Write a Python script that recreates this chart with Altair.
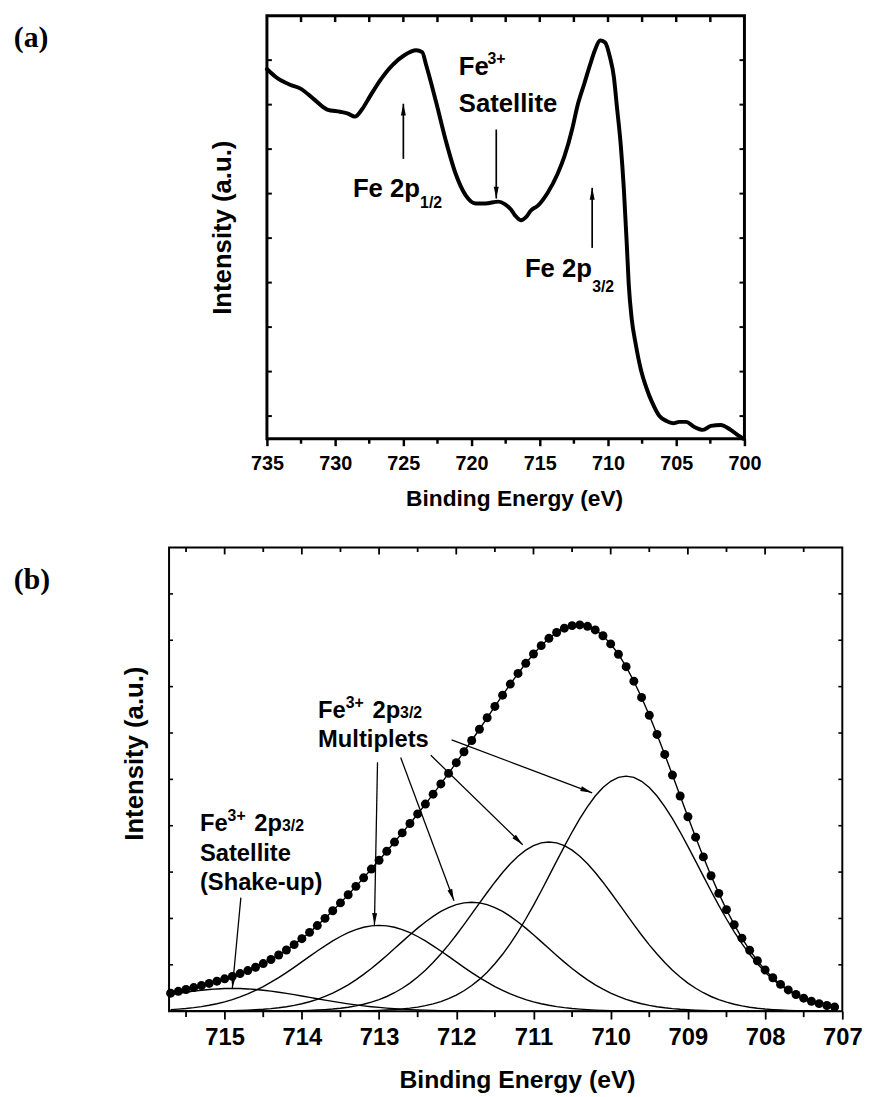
import math
import altair as alt
import pandas as pd

SANS = "Liberation Sans, Arial, Helvetica, sans-serif"
NARROW = "Liberation Sans Narrow, Arial Narrow, Liberation Sans, sans-serif"
SERIF = "Liberation Serif, Times New Roman, serif"

# ---------------- panel (a): survey of Fe 2p ----------------
a_be = [735.00, 734.35, 733.26, 732.54, 731.59, 730.58, 729.64, 729.06, 728.55, 728.04,
        727.46, 726.74, 725.80, 724.93, 724.06, 723.62, 723.33, 722.61, 721.88, 721.16,
        720.43, 719.71, 718.99, 718.04, 717.54, 717.10, 716.81, 716.38, 716.01, 715.65,
        715.14, 714.42, 713.70, 713.19, 712.61, 712.25, 711.74, 711.30, 710.94, 710.58,
        710.22, 709.86, 709.57, 709.35, 709.06, 708.84, 708.62, 708.48, 708.26, 707.97,
        707.61, 707.17, 706.74, 706.23, 705.72, 705.22, 704.78, 704.28, 703.70, 703.04,
        702.46, 701.74, 701.01, 700.43, 700.07]
a_int = [7.80, 7.62, 7.44, 7.36, 7.13, 6.89, 6.84, 6.80, 6.73, 6.89,
         7.18, 7.53, 7.89, 8.11, 8.22, 8.18, 7.89, 7.07, 6.18, 5.44,
         4.96, 4.78, 4.78, 4.82, 4.76, 4.64, 4.51, 4.40, 4.47, 4.62,
         4.73, 5.02, 5.44, 5.84, 6.47, 6.96, 7.47, 7.91, 8.24, 8.44,
         8.40, 8.07, 7.62, 6.96, 6.07, 5.11, 3.84, 2.96, 2.18, 1.62,
         1.07, 0.62, 0.29, 0.00, -0.11, -0.16, -0.13, -0.13, -0.24, -0.31,
         -0.22, -0.20, -0.31, -0.44, -0.51]
a_major = [735, 730, 725, 720, 715, 710, 705, 700]
a_minor = [732.5, 727.5, 722.5, 717.5, 712.5, 707.5, 702.5]
a_top = [732.5, 730, 727.5, 725, 722.5, 720, 717.5, 715, 712.5, 710, 707.5, 705, 702.5]
a_side = [0, 1, 2, 3, 4, 5, 6, 7, 8]

# ---------------- panel (b): Fe 2p3/2 fit ----------------
b_be = [715.7, 715.6, 715.5, 715.4, 715.3, 715.2, 715.1, 715.0, 714.9, 714.8,
        714.7, 714.6, 714.5, 714.4, 714.3, 714.2, 714.1, 714.0, 713.9, 713.8,
        713.7, 713.6, 713.5, 713.4, 713.3, 713.2, 713.1, 713.0, 712.9, 712.8,
        712.7, 712.6, 712.5, 712.4, 712.3, 712.2, 712.1, 712.0, 711.9, 711.8,
        711.7, 711.6, 711.5, 711.4, 711.3, 711.2, 711.1, 711.0, 710.9, 710.8,
        710.7, 710.6, 710.5, 710.4, 710.3, 710.2, 710.1, 710.0, 709.9, 709.8,
        709.7, 709.6, 709.5, 709.4, 709.3, 709.2, 709.1, 709.0, 708.9, 708.8,
        708.7, 708.6, 708.5, 708.4, 708.3, 708.2, 708.1, 708.0, 707.9, 707.8,
        707.7, 707.6, 707.5, 707.4, 707.3, 707.2, 707.1]
b_env = [0.389, 0.429, 0.468, 0.510, 0.554, 0.599, 0.647, 0.698, 0.751, 0.811,
         0.876, 0.948, 1.027, 1.115, 1.212, 1.320, 1.436, 1.564, 1.700, 1.847,
         2.002, 2.166, 2.336, 2.511, 2.692, 2.876, 3.065, 3.256, 3.450, 3.648,
         3.846, 4.048, 4.254, 4.467, 4.681, 4.902, 5.129, 5.360, 5.596, 5.838,
         6.081, 6.328, 6.573, 6.816, 7.055, 7.284, 7.502, 7.703, 7.884, 8.042,
         8.168, 8.260, 8.316, 8.330, 8.301, 8.223, 8.098, 7.922, 7.699, 7.430,
         7.117, 6.767, 6.382, 5.969, 5.537, 5.092, 4.641, 4.193, 3.753, 3.328,
         2.921, 2.541, 2.189, 1.866, 1.575, 1.315, 1.088, 0.890, 0.721, 0.578,
         0.459, 0.360, 0.280, 0.214, 0.163, 0.123, 0.091]
b_sat = [0.356, 0.384, 0.409, 0.432, 0.452, 0.468, 0.480, 0.488, 0.490, 0.488,
         0.480, 0.468, 0.452, 0.432, 0.409, 0.384, 0.356, 0.327, 0.297, 0.268,
         0.239, 0.211, 0.184, 0.159, 0.136, 0.115, 0.097, 0.081, 0.066, 0.054,
         0.044, 0.035, 0.027, 0.022, 0.017, 0.013, 0.010, 0.007, 0.005, 0.004,
         0.003, 0.002, 0, 0, 0, 0, 0, 0, 0, 0,
         0, 0, 0, 0, 0, 0, 0, 0, 0, 0,
         0, 0, 0, 0, 0, 0, 0, 0, 0, 0,
         0, 0, 0, 0, 0, 0, 0, 0, 0, 0,
         0, 0, 0, 0, 0, 0, 0]
b_m1 = [0.033, 0.044, 0.058, 0.076, 0.099, 0.127, 0.161, 0.202, 0.250, 0.307,
        0.373, 0.448, 0.532, 0.625, 0.725, 0.833, 0.946, 1.063, 1.181, 1.298,
        1.410, 1.516, 1.611, 1.693, 1.760, 1.810, 1.840, 1.850, 1.840, 1.810,
        1.760, 1.693, 1.611, 1.516, 1.410, 1.298, 1.181, 1.063, 0.946, 0.833,
        0.725, 0.625, 0.532, 0.448, 0.373, 0.307, 0.250, 0.202, 0.161, 0.127,
        0.099, 0.076, 0.058, 0.044, 0.033, 0.024, 0.018, 0.013, 0.009, 0.006,
        0.004, 0.003, 0.002, 0, 0, 0, 0, 0, 0, 0,
        0, 0, 0, 0, 0, 0, 0, 0, 0, 0,
        0, 0, 0, 0, 0, 0, 0]
b_m2 = [0, 0.001, 0.001, 0.002, 0.003, 0.004, 0.006, 0.008, 0.011, 0.016,
        0.022, 0.031, 0.041, 0.055, 0.074, 0.097, 0.125, 0.161, 0.204, 0.256,
        0.318, 0.390, 0.474, 0.569, 0.676, 0.793, 0.921, 1.058, 1.202, 1.351,
        1.500, 1.648, 1.791, 1.925, 2.046, 2.151, 2.236, 2.299, 2.337, 2.350,
        2.337, 2.299, 2.236, 2.151, 2.046, 1.925, 1.791, 1.648, 1.500, 1.351,
        1.202, 1.058, 0.921, 0.793, 0.676, 0.569, 0.474, 0.390, 0.318, 0.256,
        0.204, 0.161, 0.125, 0.097, 0.074, 0.055, 0.041, 0.031, 0.022, 0.016,
        0.011, 0.008, 0.006, 0.004, 0.003, 0.002, 0.001, 0.001, 0, 0,
        0, 0, 0, 0, 0, 0, 0]
b_m3 = [0, 0, 0, 0, 0, 0, 0, 0, 0, 0,
        0.001, 0.001, 0.002, 0.003, 0.004, 0.006, 0.009, 0.013, 0.018, 0.025,
        0.035, 0.047, 0.064, 0.086, 0.114, 0.150, 0.195, 0.250, 0.317, 0.398,
        0.494, 0.606, 0.736, 0.884, 1.049, 1.232, 1.431, 1.644, 1.867, 2.098,
        2.330, 2.560, 2.782, 2.990, 3.178, 3.340, 3.473, 3.570, 3.630, 3.650,
        3.630, 3.570, 3.473, 3.340, 3.178, 2.990, 2.782, 2.560, 2.330, 2.098,
        1.867, 1.644, 1.431, 1.232, 1.049, 0.884, 0.736, 0.606, 0.494, 0.398,
        0.317, 0.250, 0.195, 0.150, 0.114, 0.086, 0.064, 0.047, 0.035, 0.025,
        0.018, 0.013, 0.009, 0.006, 0.004, 0.003, 0.002]
b_m4 = [0, 0, 0, 0, 0, 0, 0, 0, 0, 0,
        0, 0, 0, 0, 0, 0, 0, 0, 0, 0,
        0, 0.002, 0.003, 0.004, 0.006, 0.008, 0.012, 0.017, 0.025, 0.035,
        0.048, 0.066, 0.089, 0.120, 0.159, 0.208, 0.271, 0.347, 0.441, 0.553,
        0.686, 0.842, 1.023, 1.227, 1.458, 1.712, 1.988, 2.283, 2.593, 2.914,
        3.237, 3.556, 3.864, 4.153, 4.414, 4.640, 4.824, 4.959, 5.042, 5.070,
        5.042, 4.959, 4.824, 4.640, 4.414, 4.153, 3.864, 3.556, 3.237, 2.914,
        2.593, 2.283, 1.988, 1.712, 1.458, 1.227, 1.023, 0.842, 0.686, 0.553,
        0.441, 0.347, 0.271, 0.208, 0.159, 0.120, 0.089]
b_major = [715, 714, 713, 712, 711, 710, 709, 708, 707]
b_minor = [715.5, 714.5, 713.5, 712.5, 711.5, 710.5, 709.5, 708.5, 707.5]
b_top_major = [715, 714, 713, 712, 711, 710, 709, 708]
b_top_minor = [715.5, 714.5, 713.5, 712.5, 711.5, 710.5, 709.5, 708.5, 707.5]
b_side = [1, 2, 3, 4, 5, 6, 7, 8, 9]

# ---------------- geometry / scales ----------------
AW, AH = 483, 428
A_XDOM, A_YDOM = [700, 735], [-0.51, 9]
BW, BH = 681, 469
B_XDOM, B_YDOM = [707, 715.72], [0, 10]
A_PPE = AW / (A_XDOM[1] - A_XDOM[0])
A_PPU = AH / (A_YDOM[1] - A_YDOM[0])
B_PPE = BW / (B_XDOM[1] - B_XDOM[0])
B_PPU = BH / (B_YDOM[1] - B_YDOM[0])

xs_a = alt.Scale(domain=A_XDOM, reverse=True, nice=False, zero=False)
ys_a = alt.Scale(domain=A_YDOM, nice=False, zero=False)
xs_b = alt.Scale(domain=B_XDOM, reverse=True, nice=False, zero=False)
ys_b = alt.Scale(domain=B_YDOM, nice=False, zero=False)

ARROW = "M0,0L0.21,1L-0.21,1Z"

# annotations: anchor (energy, intensity), pieces (text, dx px, dy px, kind)
a_notes = [
    (728.70, 4.93, [("Fe 2p", 0, 0, "big"), ("1/2", 68, 11, "small")]),
    (720.94, 7.67, [("Fe", 0, 0, "big"), ("3+", 29, -11, "small"), ("Satellite", 0, 38, "big")]),
    (716.09, 3.13, [("Fe 2p", 0, 0, "big"), ("3/2", 68, 15, "small")]),
]
a_arrows = [(725.0, 5.78, 725.0, 7.02), (718.19, 6.44, 718.19, 4.89), (711.16, 3.78, 711.16, 5.13)]

b_notes = [
    (713.79, 6.33, [("Fe", 0, 0, "big"), ("3+", 28, -10, "small"), ("2p", 55, 0, "big"),
                    ("3/2", 83, 0, "small"), ("Multiplets", 0, 30, "big")]),
    (715.32, 3.88, [("Fe", 0, 0, "big"), ("3+", 28, -10, "small"), ("2p", 55, 0, "big"),
                    ("3/2", 83, 0, "small"), ("Satellite", 0, 30, "big"), ("(Shake-up)", 0, 59, "big")]),
]
b_arrows = [(713.02, 5.37, 713.06, 1.86), (712.72, 5.47, 712.03, 2.38), (712.33, 5.52, 711.14, 3.59),
            (712.06, 5.85, 710.24, 4.71), (714.79, 2.45, 714.90, 0.50)]


def place(notes, ppe, ppu):
    rows = []
    for ax, ay, pieces in notes:
        for text, dx, dy, kind in pieces:
            rows.append({"x": ax - dx / ppe, "y": ay - dy / ppu, "text": text, "kind": kind})
    return pd.DataFrame(rows)


def arrow_df(rows, ppe, ppu):
    out = []
    for x, y, x2, y2 in rows:
        dxp = -(x2 - x) * ppe
        dyp = -(y2 - y) * ppu
        ang = math.degrees(math.atan2(dxp, -dyp)) % 360
        out.append({"x": x, "y": y, "x2": x2, "y2": y2, "angle": ang})
    return pd.DataFrame(out)


def xticks(values, xs, y0, y1, w):
    return alt.Chart(pd.DataFrame({"x": values})).mark_rule(color="black", strokeWidth=w).encode(
        x=alt.X("x:Q", scale=xs), y=alt.value(y0), y2=alt.value(y1))


def yticks(values, ys, x0, x1, w):
    return alt.Chart(pd.DataFrame({"y": values})).mark_rule(color="black", strokeWidth=w).encode(
        y=alt.Y("y:Q", scale=ys), x=alt.value(x0), x2=alt.value(x1))


def text_layers(df, xs, ys, big, small):
    layers = []
    for kind, size in (("big", big), ("small", small)):
        sub = df[df["kind"] == kind]
        layers.append(alt.Chart(sub).mark_text(font=SANS, fontWeight="bold", fontSize=size, align="left",
                                               baseline="alphabetic", color="black").encode(
            x=alt.X("x:Q", scale=xs), y=alt.Y("y:Q", scale=ys), text="text:N"))
    return layers


def arrow_layers(df, xs, ys, w, size):
    rule = alt.Chart(df).mark_rule(color="black", strokeWidth=w).encode(
        x=alt.X("x:Q", scale=xs), y=alt.Y("y:Q", scale=ys), x2="x2:Q", y2="y2:Q")
    head = alt.Chart(df).mark_point(shape=ARROW, filled=True, size=size, color="black", opacity=1,
                                    strokeWidth=0).encode(
        x=alt.X("x2:Q", scale=xs), y=alt.Y("y2:Q", scale=ys), angle=alt.Angle("angle:Q", scale=None))
    return [rule, head]


# ---------------- panel (a) chart ----------------
a_df = pd.DataFrame({"x": a_be, "y": a_int})
a_line = alt.Chart(a_df).mark_line(color="black", strokeWidth=4, interpolate="monotone",
                                   strokeCap="round", strokeJoin="round").encode(
    x=alt.X("x:Q", scale=xs_a, axis=alt.Axis(
        values=a_major, format="d", tickSize=7, tickWidth=2.5, tickColor="black", domain=False, grid=False,
        labelFont=NARROW, labelFontSize=20, labelFontWeight="bold", labelColor="black", labelPadding=8,
        labelFlush=False, labelOverlap=False,
        title="Binding Energy (eV)", titleFont=NARROW, titleFontSize=23, titleFontWeight="bold",
        titleColor="black", titleX=250, titleY=67, titleBaseline="alphabetic", titleAlign="center")),
    y=alt.Y("y:Q", scale=ys_a, axis=alt.Axis(
        ticks=False, labels=False, domain=False, grid=False, title="Intensity (a.u.)", titleFont=SANS,
        titleFontSize=26, titleFontWeight="bold", titleColor="black", titleX=-45, titleY=214,
        titleBaseline="middle", titleAlign="center", titleAngle=270)),
)
a_lab = alt.Chart(pd.DataFrame({"t": ["(a)"]})).mark_text(
    font=SERIF, fontWeight="bold", fontSize=30, align="left", baseline="alphabetic", color="black").encode(
    x=alt.value(-256), y=alt.value(32), text="t:N")

panel_a = alt.layer(
    a_line,
    xticks(a_minor, xs_a, AH, AH + 5, 2.5),
    xticks(a_top, xs_a, 0, 6.5, 2.5),
    yticks(a_side, ys_a, 0, 5, 2),
    yticks(a_side, ys_a, AW - 5, AW, 2),
    *arrow_layers(arrow_df(a_arrows, A_PPE, A_PPU), xs_a, ys_a, 1.7, 4 * 12 * 12),
    *text_layers(place(a_notes, A_PPE, A_PPU), xs_a, ys_a, 26, 16),
    a_lab,
).properties(width=AW, height=AH, view=alt.ViewBackground(stroke="black", strokeWidth=3, fill="white"))

# ---------------- panel (b) chart ----------------
comp_rows = []
for name, vals in (("sat", b_sat), ("m1", b_m1), ("m2", b_m2), ("m3", b_m3), ("m4", b_m4)):
    for xv, yv in zip(b_be, vals):
        comp_rows.append({"x": xv, "y": yv, "c": name})
comp_df = pd.DataFrame(comp_rows)
env_df = pd.DataFrame({"x": b_be, "y": b_env})

b_comp = alt.Chart(comp_df).mark_line(color="black", strokeWidth=1.4).encode(
    x=alt.X("x:Q", scale=xs_b, axis=alt.Axis(
        values=b_major, format="d", tickSize=8, tickWidth=1.8, tickColor="black", domain=False, grid=False,
        labelFont=SANS, labelFontSize=24, labelFontWeight="bold", labelColor="black", labelPadding=7,
        labelFlush=False, labelOverlap=False,
        title="Binding Energy (eV)", titleFont=SANS, titleFontSize=25, titleFontWeight="bold",
        titleColor="black", titleX=352, titleY=77, titleBaseline="alphabetic", titleAlign="center")),
    y=alt.Y("y:Q", scale=ys_b, axis=alt.Axis(
        ticks=False, labels=False, domain=False, grid=False, title="Intensity (a.u.)", titleFont=SANS,
        titleFontSize=26, titleFontWeight="bold", titleColor="black", titleX=-35, titleY=208,
        titleBaseline="middle", titleAlign="center", titleAngle=270)),
    detail="c:N",
)
b_envline = alt.Chart(env_df).mark_line(color="black", strokeWidth=1.4).encode(
    x=alt.X("x:Q", scale=xs_b), y=alt.Y("y:Q", scale=ys_b))
b_dots = alt.Chart(env_df).mark_circle(color="black", size=82, opacity=1).encode(
    x=alt.X("x:Q", scale=xs_b), y=alt.Y("y:Q", scale=ys_b))
b_lab = alt.Chart(pd.DataFrame({"t": ["(b)"]})).mark_text(
    font=SERIF, fontWeight="bold", fontSize=30, align="left", baseline="alphabetic", color="black").encode(
    x=alt.value(-157), y=alt.value(42), text="t:N")

panel_b = alt.layer(
    b_comp,
    b_envline,
    b_dots,
    xticks(b_minor, xs_b, BH, BH + 6, 1.8),
    xticks(b_top_major, xs_b, 0, 7, 1.8),
    xticks(b_top_minor, xs_b, 0, 4.5, 1.8),
    yticks(b_side, ys_b, 0, 4, 1.6),
    yticks(b_side, ys_b, BW - 4, BW, 1.6),
    *arrow_layers(arrow_df(b_arrows, B_PPE, B_PPU), xs_b, ys_b, 1.3, 4 * 12 * 12),
    *text_layers(place(b_notes, B_PPE, B_PPU), xs_b, ys_b, 24, 16),
    b_lab,
).properties(width=BW, height=BH, view=alt.ViewBackground(stroke="black", strokeWidth=2, fill="white"))

chart = alt.vconcat(panel_a, panel_b, spacing=110, bounds="flush", center=True).properties(
    padding={"left": 12, "top": 6.5, "right": 5, "bottom": 0},
    background="white",
)

chart.save("out.html", embed_options={"renderer": "svg", "actions": False})
